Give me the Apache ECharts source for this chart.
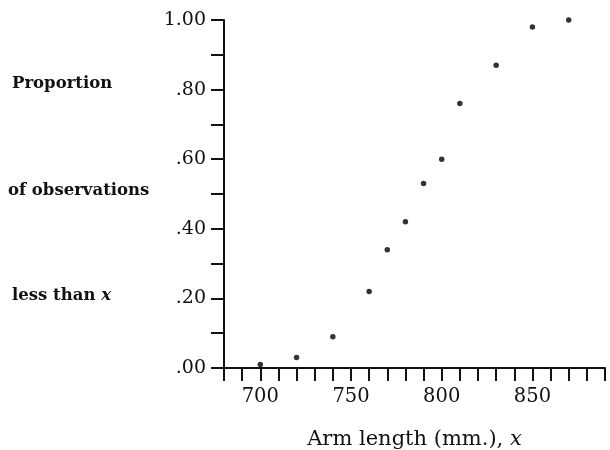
<!DOCTYPE html>
<html>
<head>
<meta charset="utf-8">
<title>Arm length</title>
<script src="https://cdn.jsdelivr.net/npm/echarts@6/dist/echarts.min.js"></script>
<style>
  html, body { margin: 0; padding: 0; background: #fff; }
  #main { width: 610px; height: 450px; }
</style>
</head>
<body>
<div id="main"></div>
<script>
// arm length (mm) and proportion of observations less than x
var armLength = [700, 720, 740, 760, 770, 780, 790, 800, 810, 830, 850, 870];
var proportion = [0.01, 0.03, 0.09, 0.22, 0.34, 0.42, 0.53, 0.60, 0.76, 0.87, 0.98, 1.00];
var xLabels = [700, 750, 800, 850];
var yTitleLines = ['Proportion', 'of observations', 'less than {i|x}'];

window.onload = function () {
  myecharts();
}

function yLabel(v) {
  var k = Math.round(v * 10);
  if (k % 2) return '';
  if (k === 10) return '1.00';
  return '.' + String(k * 10).padStart(2, '0');
}

function myecharts() {
  var mychart = echarts.init(document.getElementById('main'));
  var ink = '#111';
  var serif = 'DejaVu Serif';

  var points = [];
  for (var i = 0; i < armLength.length; i++) {
    points.push([armLength[i], proportion[i]]);
  }

  //left hand titles, three separate lines
  var titleY = [85, 192, 297];
  var titleX = [12, 8, 12];
  var graphics = [];
  for (var j = 0; j < yTitleLines.length; j++) {
    graphics.push({
      type: 'text',
      left: titleX[j],
      top: titleY[j] - 10,
      style: {
        text: yTitleLines[j],
        font: 'bold 16.5px "' + serif + '"',
        fill: ink,
        rich: {
          i: { fontFamily: serif, fontStyle: 'italic', fontWeight: 'bold', fontSize: 16.5 }
        }
      }
    });
  }

  var option = {
    animation: false,
    grid: { left: 224, right: 5, top: 20, bottom: 82, outerBoundsMode: 'none' },
    graphic: graphics,
    xAxis: {
      type: 'value',
      min: 680,
      max: 890,
      interval: 10,
      name: 'Arm length (mm.), {i|x}',
      nameLocation: 'middle',
      nameGap: 61,
      nameTextStyle: {
        fontFamily: serif,
        fontSize: 21,
        color: ink,
        rich: { i: { fontFamily: serif, fontStyle: 'italic', fontSize: 21, color: ink } }
      },
      splitLine: { show: false },
      axisLine: { lineStyle: { color: ink, width: 2 } },
      axisTick: { length: 13, lineStyle: { color: ink, width: 2 } },
      axisLabel: {
        margin: 19,
        fontFamily: serif,
        fontSize: 19.5,
        color: ink,
        formatter: function (v) {
          return xLabels.indexOf(v) >= 0 ? String(v) : '';
        }
      }
    },
    yAxis: {
      type: 'value',
      min: 0,
      max: 1,
      interval: 0.1,
      splitLine: { show: false },
      axisLine: { show: true, lineStyle: { color: ink, width: 2 } },
      axisTick: { show: true, length: 13, lineStyle: { color: ink, width: 2 } },
      axisLabel: {
        margin: 18,
        fontFamily: serif,
        fontSize: 19,
        color: ink,
        formatter: yLabel
      }
    },
    series: [{
      type: 'scatter',
      data: points,
      symbol: 'circle',
      symbolSize: 5.5,
      itemStyle: { color: '#000' }
    }]
  };
  mychart.setOption(option);
}
</script>
</body>
</html>
